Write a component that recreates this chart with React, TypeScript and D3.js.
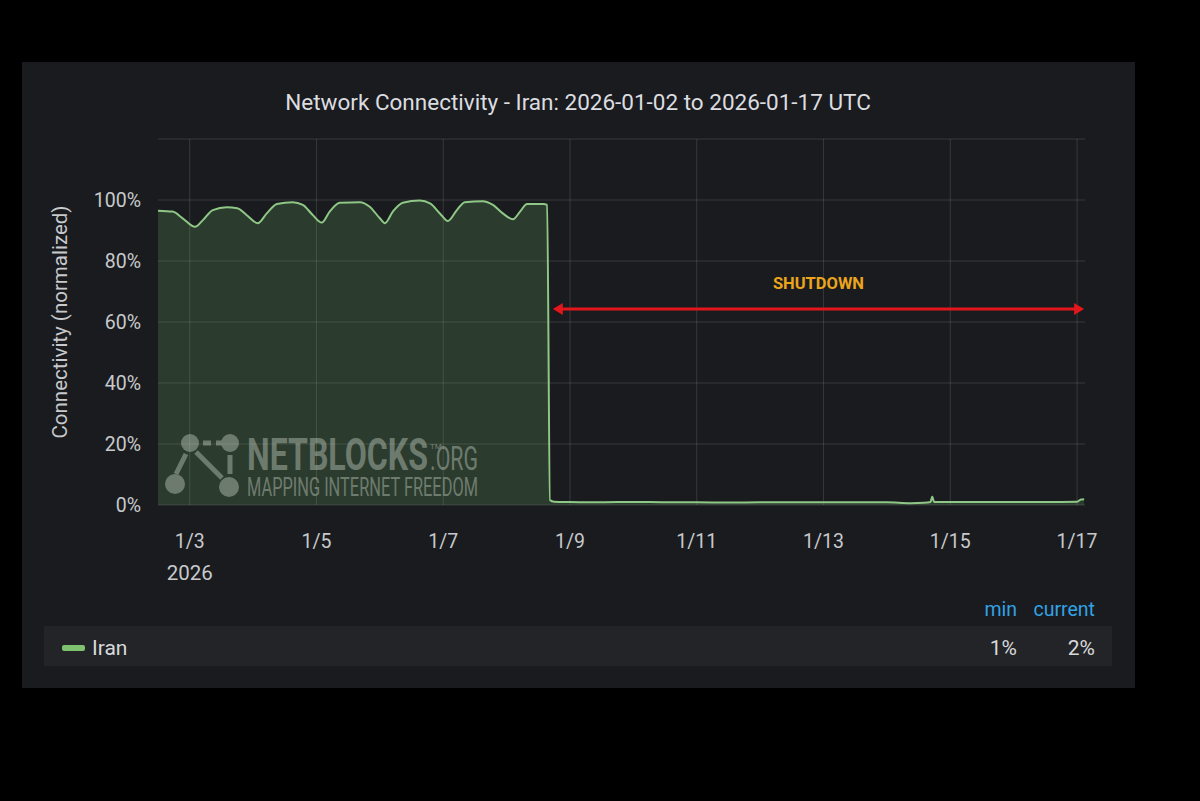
import React from "react";
import * as d3 from "d3";

const chartTitle = "Network Connectivity - Iran: 2026-01-02 to 2026-01-17 UTC";
const yAxisTitle = "Connectivity (normalized)";
const seriesName = "Iran";

const timestamps: string[] = [
  "2026-01-02T12:00", "2026-01-02T17:30", "2026-01-02T21:20", "2026-01-03T02:00", "2026-01-03T05:00",
  "2026-01-03T08:45", "2026-01-03T14:00", "2026-01-03T18:00", "2026-01-03T21:30", "2026-01-04T01:45",
  "2026-01-04T05:10", "2026-01-04T09:00", "2026-01-04T15:00", "2026-01-04T18:50", "2026-01-04T22:35",
  "2026-01-05T02:00", "2026-01-05T05:00", "2026-01-05T08:50", "2026-01-05T16:25", "2026-01-05T20:10",
  "2026-01-06T00:00", "2026-01-06T01:55", "2026-01-06T04:55", "2026-01-06T08:40", "2026-01-06T15:10",
  "2026-01-06T19:00", "2026-01-06T22:45", "2026-01-07T01:45", "2026-01-07T05:10", "2026-01-07T08:10",
  "2026-01-07T15:00", "2026-01-07T18:50", "2026-01-07T22:35", "2026-01-08T02:25", "2026-01-08T05:05",
  "2026-01-08T07:45", "2026-01-08T13:50", "2026-01-08T15:20", "2026-01-08T16:25", "2026-01-08T18:00",
  "2026-01-09T00:00", "2026-01-09T12:00", "2026-01-10T00:00", "2026-01-10T12:00", "2026-01-11T00:00",
  "2026-01-11T12:00", "2026-01-12T00:00", "2026-01-12T12:00", "2026-01-13T00:00", "2026-01-13T12:00",
  "2026-01-14T00:00", "2026-01-14T09:00", "2026-01-14T14:00", "2026-01-14T16:30", "2026-01-14T17:10",
  "2026-01-14T17:50", "2026-01-15T06:00", "2026-01-16T00:00", "2026-01-16T12:00", "2026-01-17T00:00",
  "2026-01-17T01:30", "2026-01-17T02:40",
];

const connectivity: number[] = [
  96.5, 96.2, 94.0, 91.2, 93.4,
  96.7, 97.6, 97.3, 95.1, 92.4,
  95.6, 98.7, 99.3, 98.4, 95.1,
  92.6, 96.2, 99.1, 99.3, 97.8,
  94.0, 92.4, 96.2, 99.1, 99.8,
  98.9, 95.6, 93.1, 96.7, 99.3,
  99.6, 98.4, 95.6, 93.7, 96.2,
  98.7, 98.7, 98.4, 1.6, 1.1,
  1.0, 0.9, 1.0, 0.9, 0.9,
  0.8, 0.9, 0.9, 0.9, 0.9,
  0.9, 0.6, 0.7, 1.0, 2.8,
  1.0, 1.0, 1.0, 1.0, 1.1,
  1.8, 1.9,
];

const yTicks: number[] = [0, 20, 40, 60, 80, 100];
const yGrid: number[] = [0, 20, 40, 60, 80, 100, 120];
const xTickDates: string[] = ["2026-01-03", "2026-01-05", "2026-01-07", "2026-01-09", "2026-01-11", "2026-01-13", "2026-01-15", "2026-01-17"];
const xTickLabels: string[] = ["1/3", "1/5", "1/7", "1/9", "1/11", "1/13", "1/15", "1/17"];
const yearLabel = "2026";

const shutdownLabel = "SHUTDOWN";
const shutdownStart = "2026-01-08T17:30";
const shutdownEnd = "2026-01-17T02:40";
const shutdownLevel = 64.3;
const shutdownTextLevel = 72.8;

const legendHeaders: string[] = ["min", "current"];
const legendValues: string[] = ["1%", "2%"];

const parse = d3.utcParse("%Y-%m-%dT%H:%M");
const parseDay = d3.utcParse("%Y-%m-%d");

export default function App() {
  const W = 1200, H = 801;
  const left = 158, right = 1085, top = 139, bottom = 505;

  const x = d3.scaleUtc()
    .domain([parse("2026-01-02T12:00")!, parse("2026-01-17T03:00")!])
    .range([left, right]);
  const y = d3.scaleLinear().domain([0, 120]).range([bottom, top]);

  const data = timestamps.map((t, i) => ({ t: parse(t)!, v: connectivity[i] }));

  const line = d3.line<{ t: Date; v: number }>()
    .x(d => x(d.t)).y(d => y(d.v)).curve(d3.curveMonotoneX);
  const area = d3.area<{ t: Date; v: number }>()
    .x(d => x(d.t)).y0(y(0)).y1(d => y(d.v)).curve(d3.curveMonotoneX);

  const green = "#8fc886";
  const tickColor = "#c7c9cc";
  const gridColor = "rgba(255,255,255,0.13)";
  const font = "Roboto, 'Open Sans', sans-serif";

  const ax1 = x(parse(shutdownStart)!);
  const ax2 = x(parse(shutdownEnd)!);
  const ay = y(shutdownLevel);

  return (
    <svg width={W} height={H} style={{ position: "absolute", left: 0, top: 0, display: "block", background: "#000" }} fontFamily={font}>
      <rect x={0} y={0} width={W} height={H} fill="#000" />
      <rect x={22} y={62} width={1113} height={626} fill="#1a1b1e" />
      <text x={578} y={110} textAnchor="middle" fill="#dcdde0" fontSize={22.5}>{chartTitle}</text>

      {/* grid */}
      {yGrid.map(g => (
        <line key={"yg" + g} x1={left} x2={right} y1={y(g)} y2={y(g)} stroke={gridColor} strokeWidth={1} />
      ))}
      {xTickDates.map(d => (
        <line key={"xg" + d} x1={x(parseDay(d)!)} x2={x(parseDay(d)!)} y1={top} y2={bottom} stroke={gridColor} strokeWidth={1} />
      ))}

      {/* series */}
      <path d={area(data)!} fill="#73bf69" fillOpacity={0.2} />

      {/* watermark */}
      <g opacity={0.42} fill="#c9d3c9" stroke="#c9d3c9">
        <line x1={190} y1={443} x2={230} y2={443} strokeWidth={5} strokeDasharray="8 5" />
        <line x1={186} y1={454} x2={176} y2={474} strokeWidth={5} />
        <line x1={196} y1={452} x2={222} y2={478} strokeWidth={5} />
        <line x1={230} y1={455} x2={230} y2={474} strokeWidth={5} />
        <circle cx={190} cy={443} r={9} stroke="none" />
        <circle cx={230} cy={443} r={9} stroke="none" />
        <circle cx={175} cy={484} r={10} stroke="none" />
        <circle cx={229} cy={487} r={10} stroke="none" />
        <text x={247} y={470} stroke="none">
          <tspan fontSize={44} fontWeight="bold" textLength={181} lengthAdjust="spacingAndGlyphs">NETBLOCKS</tspan>
          <tspan x={430} y={449} fontSize={8}>TM</tspan>
          <tspan x={430} y={470} fontSize={33} textLength={48} lengthAdjust="spacingAndGlyphs">.ORG</tspan>
        </text>
        <text x={247} y={496} fontSize={25} stroke="none" textLength={231} lengthAdjust="spacingAndGlyphs">MAPPING INTERNET FREEDOM</text>
      </g>

      <path d={line(data)!} fill="none" stroke={green} strokeWidth={2} />

      {/* y axis */}
      {yTicks.map(t => (
        <text key={"yt" + t} x={141} y={y(t)} dy="0.35em" textAnchor="end" fill={tickColor} fontSize={19.5}>{t}%</text>
      ))}
      <text transform={`translate(67,${(top + bottom) / 2}) rotate(-90)`} textAnchor="middle" fill={tickColor} fontSize={20.5}>{yAxisTitle}</text>

      {/* x axis */}
      {xTickDates.map((d, i) => (
        <text key={"xt" + d} x={x(parseDay(d)!)} y={548} textAnchor="middle" fill={tickColor} fontSize={19.5}>{xTickLabels[i]}</text>
      ))}
      <text x={x(parseDay(xTickDates[0])!)} y={580} textAnchor="middle" fill={tickColor} fontSize={20.5}>{yearLabel}</text>

      {/* shutdown annotation */}
      <line x1={ax1 + 8} x2={ax2 - 8} y1={ay} y2={ay} stroke="#e3161b" strokeWidth={3} />
      <path d={`M${ax1},${ay} L${ax1 + 10},${ay - 6} L${ax1 + 10},${ay + 6} Z`} fill="#e3161b" />
      <path d={`M${ax2},${ay} L${ax2 - 10},${ay - 6} L${ax2 - 10},${ay + 6} Z`} fill="#e3161b" />
      <text x={(ax1 + ax2) / 2} y={y(shutdownTextLevel)} dy="0.35em" textAnchor="middle" fill="#eba51d" fontSize={16.5} fontWeight="bold">{shutdownLabel}</text>

      {/* legend */}
      <text x={1017} y={616} textAnchor="end" fill="#33a2e5" fontSize={19.5}>{legendHeaders[0]}</text>
      <text x={1095} y={616} textAnchor="end" fill="#33a2e5" fontSize={19.5}>{legendHeaders[1]}</text>
      <rect x={44} y={626} width={1068} height={40} fill="#232428" />
      <rect x={62} y={645} width={23} height={6} rx={2} fill="#7ec270" />
      <text x={92} y={648} dy="0.35em" fill="#d8d9da" fontSize={21}>{seriesName}</text>
      <text x={1017} y={648} dy="0.35em" textAnchor="end" fill="#d8d9da" fontSize={21}>{legendValues[0]}</text>
      <text x={1095} y={648} dy="0.35em" textAnchor="end" fill="#d8d9da" fontSize={21}>{legendValues[1]}</text>
    </svg>
  );
}
